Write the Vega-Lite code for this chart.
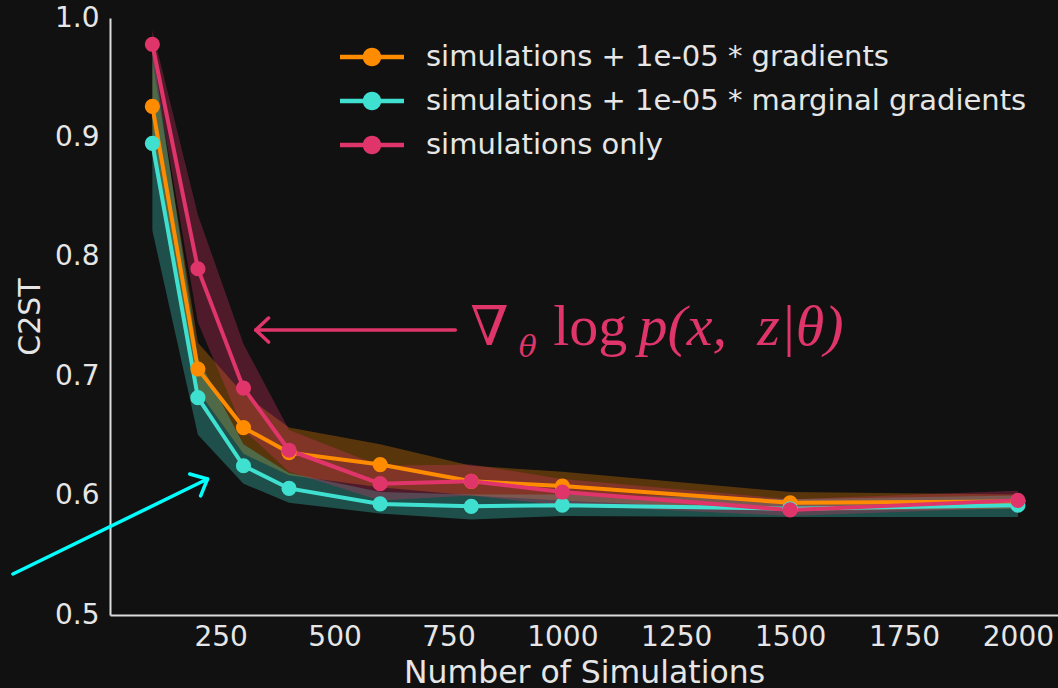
{
  "$schema": "https://vega.github.io/schema/vega-lite/v6.json",
  "width": 948,
  "height": 597,
  "autosize": "none",
  "padding": {"left": 110, "top": 18, "right": 0, "bottom": 73},
  "background": "#111111",
  "config": {"view": {"stroke": null}, "font": "DejaVu Sans"},
  "datasets": {
    "c2st": [
      {"method": "simulations + 1e-05 * gradients", "n": 100, "mean": 0.926, "lo": 0.885, "hi": 0.965},
      {"method": "simulations + 1e-05 * gradients", "n": 200, "mean": 0.706, "lo": 0.688, "hi": 0.728},
      {"method": "simulations + 1e-05 * gradients", "n": 300, "mean": 0.657, "lo": 0.635, "hi": 0.685},
      {"method": "simulations + 1e-05 * gradients", "n": 400, "mean": 0.636, "lo": 0.617, "hi": 0.657},
      {"method": "simulations + 1e-05 * gradients", "n": 600, "mean": 0.626, "lo": 0.607, "hi": 0.643},
      {"method": "simulations + 1e-05 * gradients", "n": 800, "mean": 0.612, "lo": 0.600, "hi": 0.625},
      {"method": "simulations + 1e-05 * gradients", "n": 1000, "mean": 0.608, "lo": 0.596, "hi": 0.620},
      {"method": "simulations + 1e-05 * gradients", "n": 1500, "mean": 0.594, "lo": 0.587, "hi": 0.603},
      {"method": "simulations + 1e-05 * gradients", "n": 2000, "mean": 0.595, "lo": 0.589, "hi": 0.601},
      {"method": "simulations + 1e-05 * marginal gradients", "n": 100, "mean": 0.895, "lo": 0.822, "hi": 0.975},
      {"method": "simulations + 1e-05 * marginal gradients", "n": 200, "mean": 0.682, "lo": 0.651, "hi": 0.715},
      {"method": "simulations + 1e-05 * marginal gradients", "n": 300, "mean": 0.625, "lo": 0.610, "hi": 0.643},
      {"method": "simulations + 1e-05 * marginal gradients", "n": 400, "mean": 0.606, "lo": 0.594, "hi": 0.619},
      {"method": "simulations + 1e-05 * marginal gradients", "n": 600, "mean": 0.593, "lo": 0.585, "hi": 0.603},
      {"method": "simulations + 1e-05 * marginal gradients", "n": 800, "mean": 0.591, "lo": 0.580, "hi": 0.601},
      {"method": "simulations + 1e-05 * marginal gradients", "n": 1000, "mean": 0.592, "lo": 0.583, "hi": 0.601},
      {"method": "simulations + 1e-05 * marginal gradients", "n": 1500, "mean": 0.589, "lo": 0.582, "hi": 0.597},
      {"method": "simulations + 1e-05 * marginal gradients", "n": 2000, "mean": 0.592, "lo": 0.582, "hi": 0.600},
      {"method": "simulations only", "n": 100, "mean": 0.978, "lo": 0.965, "hi": 0.990},
      {"method": "simulations only", "n": 200, "mean": 0.790, "lo": 0.745, "hi": 0.835},
      {"method": "simulations only", "n": 300, "mean": 0.690, "lo": 0.655, "hi": 0.727},
      {"method": "simulations only", "n": 400, "mean": 0.638, "lo": 0.620, "hi": 0.655},
      {"method": "simulations only", "n": 600, "mean": 0.610, "lo": 0.596, "hi": 0.625},
      {"method": "simulations only", "n": 800, "mean": 0.612, "lo": 0.600, "hi": 0.626},
      {"method": "simulations only", "n": 1000, "mean": 0.603, "lo": 0.592, "hi": 0.614},
      {"method": "simulations only", "n": 1500, "mean": 0.588, "lo": 0.583, "hi": 0.597},
      {"method": "simulations only", "n": 2000, "mean": 0.596, "lo": 0.590, "hi": 0.604}
    ],
    "pinkArrow": [
      {"x": 765, "y": 0.7387, "x2": 327, "y2": 0.7387},
      {"x": 327, "y": 0.7387, "x2": 355, "y2": 0.7487},
      {"x": 327, "y": 0.7387, "x2": 355, "y2": 0.7286}
    ],
    "cyanArrow": [
      {"x": -206, "y": 0.5343, "x2": 221, "y2": 0.6139},
      {"x": 221, "y": 0.6139, "x2": 182, "y2": 0.6181},
      {"x": 221, "y": 0.6139, "x2": 206, "y2": 0.5997}
    ],
    "one": [{}]
  },
  "layer": [
    {
      "data": {"name": "c2st"},
      "mark": {"type": "area", "opacity": 0.3},
      "encoding": {
        "x": {
          "field": "n", "type": "quantitative",
          "scale": {"domain": [7, 2088], "nice": false, "zero": false},
          "axis": {
            "title": "Number of Simulations",
            "values": [250, 500, 750, 1000, 1250, 1500, 1750, 2000], "format": "d",
            "grid": false, "ticks": false,
            "domainColor": "#dddddd", "domainWidth": 2,
            "labelColor": "#e6e6e6", "labelFontSize": 28, "labelPadding": 8,
            "labelFlush": false, "labelOverlap": false,
            "titleColor": "#e6e6e6", "titleFontSize": 31.5, "titleFontWeight": "normal",
            "titleY": 67, "titleBaseline": "alphabetic"
          }
        },
        "y": {
          "field": "lo", "type": "quantitative",
          "scale": {"domain": [0.5, 1.0], "nice": false, "zero": false},
          "axis": {
            "title": "C2ST",
            "values": [0.5, 0.6, 0.7, 0.8, 0.9, 1.0], "format": ".1f",
            "grid": false, "ticks": false,
            "domainColor": "#dddddd", "domainWidth": 2,
            "labelColor": "#e6e6e6", "labelFontSize": 28, "labelPadding": 11,
            "titleColor": "#e6e6e6", "titleFontSize": 30, "titleFontWeight": "normal",
            "titleX": -71, "titleBaseline": "alphabetic"
          }
        },
        "y2": {"field": "hi"},
        "color": {
          "field": "method", "type": "nominal",
          "scale": {
            "domain": ["simulations + 1e-05 * gradients", "simulations + 1e-05 * marginal gradients", "simulations only"],
            "range": ["#ff8c00", "#40e0d0", "#e0356a"]
          },
          "legend": {
            "title": null, "orient": "none", "legendX": 230, "legendY": 24,
            "padding": 0,
            "symbolType": "M-1,-0.07H1V0.07H-1Z M0.29,0A0.29,0.29,0,1,1,-0.29,0A0.29,0.29,0,1,1,0.29,0Z",
            "symbolSize": 4096, "symbolStrokeWidth": 0, "symbolOpacity": 1,
            "labelFontSize": 29, "labelColor": "#e6e6e6", "labelOffset": 22,
            "clipHeight": 30, "rowPadding": 14, "labelLimit": 800,
            "encode": {"symbols": {"update": {"fill": {"scale": "color", "field": "value"}, "stroke": {"value": "transparent"}, "opacity": {"value": 1}}}}
          }
        }
      }
    },
    {
      "data": {"name": "c2st"},
      "mark": {"type": "line", "strokeWidth": 4},
      "encoding": {
        "x": {"field": "n", "type": "quantitative"},
        "y": {"field": "mean", "type": "quantitative"},
        "color": {"field": "method", "type": "nominal"}
      }
    },
    {
      "data": {"name": "c2st"},
      "mark": {"type": "point", "filled": true, "size": 230, "opacity": 1},
      "encoding": {
        "x": {"field": "n", "type": "quantitative"},
        "y": {"field": "mean", "type": "quantitative"},
        "color": {"field": "method", "type": "nominal"}
      }
    },
    {
      "data": {"name": "pinkArrow"},
      "mark": {"type": "rule", "color": "#e0356a", "strokeWidth": 3.5, "strokeCap": "round"},
      "encoding": {
        "x": {"field": "x", "type": "quantitative"},
        "y": {"field": "y", "type": "quantitative"},
        "x2": {"field": "x2"},
        "y2": {"field": "y2"}
      }
    },
    {
      "data": {"name": "cyanArrow"},
      "mark": {"type": "rule", "color": "#00ffff", "strokeWidth": 3.5, "strokeCap": "round"},
      "encoding": {
        "x": {"field": "x", "type": "quantitative"},
        "y": {"field": "y", "type": "quantitative"},
        "x2": {"field": "x2"},
        "y2": {"field": "y2"}
      }
    },
    {
      "data": {"name": "one"},
      "mark": {"type": "text", "text": "∇", "font": "DejaVu Serif", "fontSize": 55, "align": "left", "baseline": "alphabetic", "color": "#e0356a"},
      "encoding": {"x": {"datum": 798}, "y": {"datum": 0.7261}}
    },
    {
      "data": {"name": "one"},
      "mark": {"type": "text", "text": "θ", "font": "DejaVu Serif", "fontStyle": "italic", "fontSize": 30, "align": "left", "baseline": "alphabetic", "color": "#e0356a"},
      "encoding": {"x": {"datum": 904}, "y": {"datum": 0.716}}
    },
    {
      "data": {"name": "one"},
      "mark": {"type": "text", "text": "log", "font": "Liberation Serif", "fontSize": 58, "align": "left", "baseline": "alphabetic", "color": "#e0356a"},
      "encoding": {"x": {"datum": 980}, "y": {"datum": 0.7261}}
    },
    {
      "data": {"name": "one"},
      "mark": {"type": "text", "text": "p(x,", "font": "Liberation Serif", "fontStyle": "italic", "fontSize": 58, "align": "left", "baseline": "alphabetic", "color": "#e0356a"},
      "encoding": {"x": {"datum": 1167}, "y": {"datum": 0.7261}}
    },
    {
      "data": {"name": "one"},
      "mark": {"type": "text", "text": "z|θ)", "font": "Liberation Serif", "fontStyle": "italic", "fontSize": 58, "align": "left", "baseline": "alphabetic", "color": "#e0356a"},
      "encoding": {"x": {"datum": 1428}, "y": {"datum": 0.7261}}
    }
  ]
}
